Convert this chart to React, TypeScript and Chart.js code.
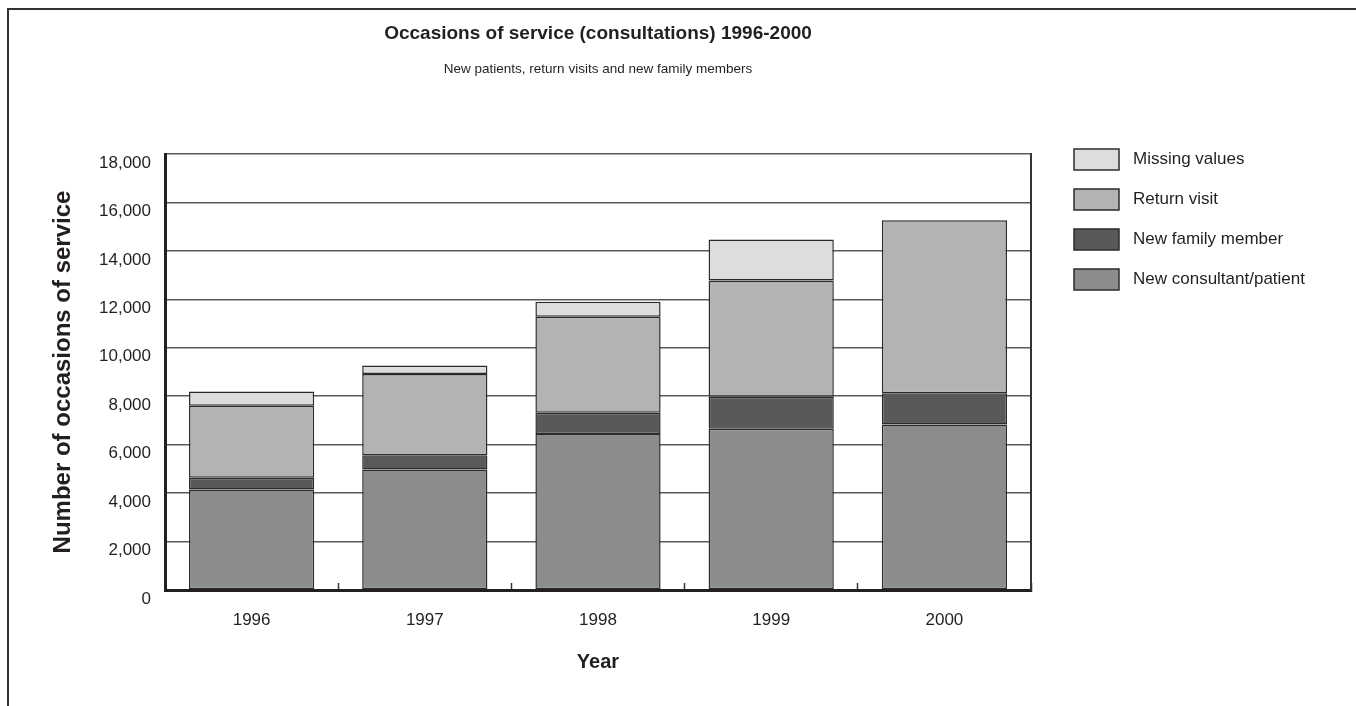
import React, { useEffect, useRef } from "react";
import { Chart, registerables } from "chart.js";

Chart.register(...registerables);

const years = ["1996", "1997", "1998", "1999", "2000"];
const newConsultant = [4150, 4970, 6440, 6660, 6830];
const newFamily = [480, 590, 880, 1320, 1290];
const returnVisit = [2980, 3360, 3960, 4800, 7150];
const missingValues = [580, 350, 620, 1690, 0];

const seriesLabels = ["New consultant/patient", "New family member", "Return visit", "Missing values"];
const seriesColors = ["#8b8c8e", "#58595b", "#b2b3b5", "#dcdddf"];

const titleText = "Occasions of service (consultations) 1996-2000";
const subtitleText = "New patients, return visits and new family members";
const yTitle = "Number of occasions of service";
const xTitle = "Year";
const yMin = 0;
const yMax = 18000;
const yStep = 2000;

const FONT = "'Liberation Sans', Arial, Helvetica, sans-serif";
const INK = "#231f20";

const legendPlugin = {
  id: "sideLegend",
  afterDraw(chart: any) {
    const { ctx, chartArea } = chart;
    const items = chart.data.datasets.map((d: any) => ({ label: d.label, color: d.backgroundColor })).reverse();
    ctx.save();
    ctx.font = `17px ${FONT}`;
    ctx.textBaseline = "middle";
    ctx.textAlign = "left";
    items.forEach((it: any, i: number) => {
      const bx = chartArea.right + 43;
      const by = chartArea.top - 5 + i * 40;
      ctx.fillStyle = it.color;
      ctx.fillRect(bx, by, 45, 21);
      ctx.lineWidth = 1.5;
      ctx.strokeStyle = "#2b2b2b";
      ctx.strokeRect(bx, by, 45, 21);
      ctx.fillStyle = INK;
      ctx.fillText(it.label, bx + 59, by + 10.5);
    });
    ctx.restore();
  },
};

export default function App() {
  const ref = useRef<HTMLCanvasElement>(null);

  useEffect(() => {
    if (!ref.current) return;
    Chart.defaults.font.family = FONT;
    Chart.defaults.color = INK;
    const seriesData = [newConsultant, newFamily, returnVisit, missingValues];
    const chart = new Chart(ref.current, {
      type: "bar",
      data: {
        labels: years,
        datasets: seriesData.map((d, i) => ({
          label: seriesLabels[i],
          data: d,
          backgroundColor: seriesColors[i],
          borderColor: "#2b2b2b",
          borderWidth: 1.5,
          borderSkipped: false,
          categoryPercentage: 1,
          barPercentage: 0.723,
        })),
      },
      options: {
        animation: false,
        responsive: false,
        layout: { padding: { top: 22, left: 40, right: 325, bottom: 31.8 } },
        plugins: {
          legend: { display: false },
          tooltip: { enabled: false },
          title: {
            display: true,
            text: titleText,
            fullSize: false,
            color: INK,
            font: { size: 19, weight: "bold", family: FONT },
            padding: { top: 0, bottom: 16.4 },
          },
          subtitle: {
            display: true,
            text: subtitleText,
            fullSize: false,
            color: INK,
            font: { size: 13.5, family: FONT },
            padding: { top: 0, bottom: 76.6 },
          },
        },
        scales: {
          x: {
            stacked: true,
            grid: {
              display: true,
              drawOnChartArea: false,
              drawTicks: true,
              tickLength: -7,
              tickColor: "#333",
              tickWidth: 1.5,
            },
            border: { display: true, color: INK, width: 3 },
            ticks: { color: INK, font: { size: 17, family: FONT }, padding: 26.8 },
            title: {
              display: true,
              text: xTitle,
              color: INK,
              font: { size: 20, weight: "bold", family: FONT },
              padding: { top: 20, bottom: 0 },
            },
            afterFit: (s: any) => {
              s.height = 84.2;
            },
          },
          y: {
            stacked: true,
            min: yMin,
            max: yMax,
            grid: { color: "#5a5a5a", lineWidth: 1.5, drawTicks: false },
            border: { display: true, color: INK, width: 3 },
            ticks: {
              stepSize: yStep,
              color: INK,
              font: { size: 17, family: FONT },
              padding: 14,
              labelOffset: 9,
              callback: (v: any) => Number(v).toLocaleString("en-US"),
            },
            title: {
              display: true,
              text: yTitle,
              color: INK,
              font: { size: 24, weight: "bold", family: FONT },
              padding: { top: 8.6, bottom: 0 },
            },
            afterFit: (s: any) => {
              s.width = 125;
            },
          },
          y1: {
            position: "right",
            display: true,
            grid: { drawOnChartArea: false, drawTicks: false },
            border: { display: true, color: "#333", width: 2 },
            ticks: { display: false },
            afterFit: (s: any) => {
              s.width = 0;
            },
          },
        },
      } as any,
      plugins: [legendPlugin],
    });
    return () => chart.destroy();
  }, []);

  return (
    <div style={{ position: "fixed", left: 0, top: 0, width: 1356, height: 706, background: "#fff" }}>
      <canvas ref={ref} width={1356} height={706} style={{ position: "absolute", left: 0, top: 0 }} />
      <div
        style={{
          position: "absolute",
          left: 7,
          top: 8,
          right: 0,
          bottom: 0,
          borderTop: "2px solid #333",
          borderLeft: "2px solid #333",
          pointerEvents: "none",
        }}
      />
    </div>
  );
}
